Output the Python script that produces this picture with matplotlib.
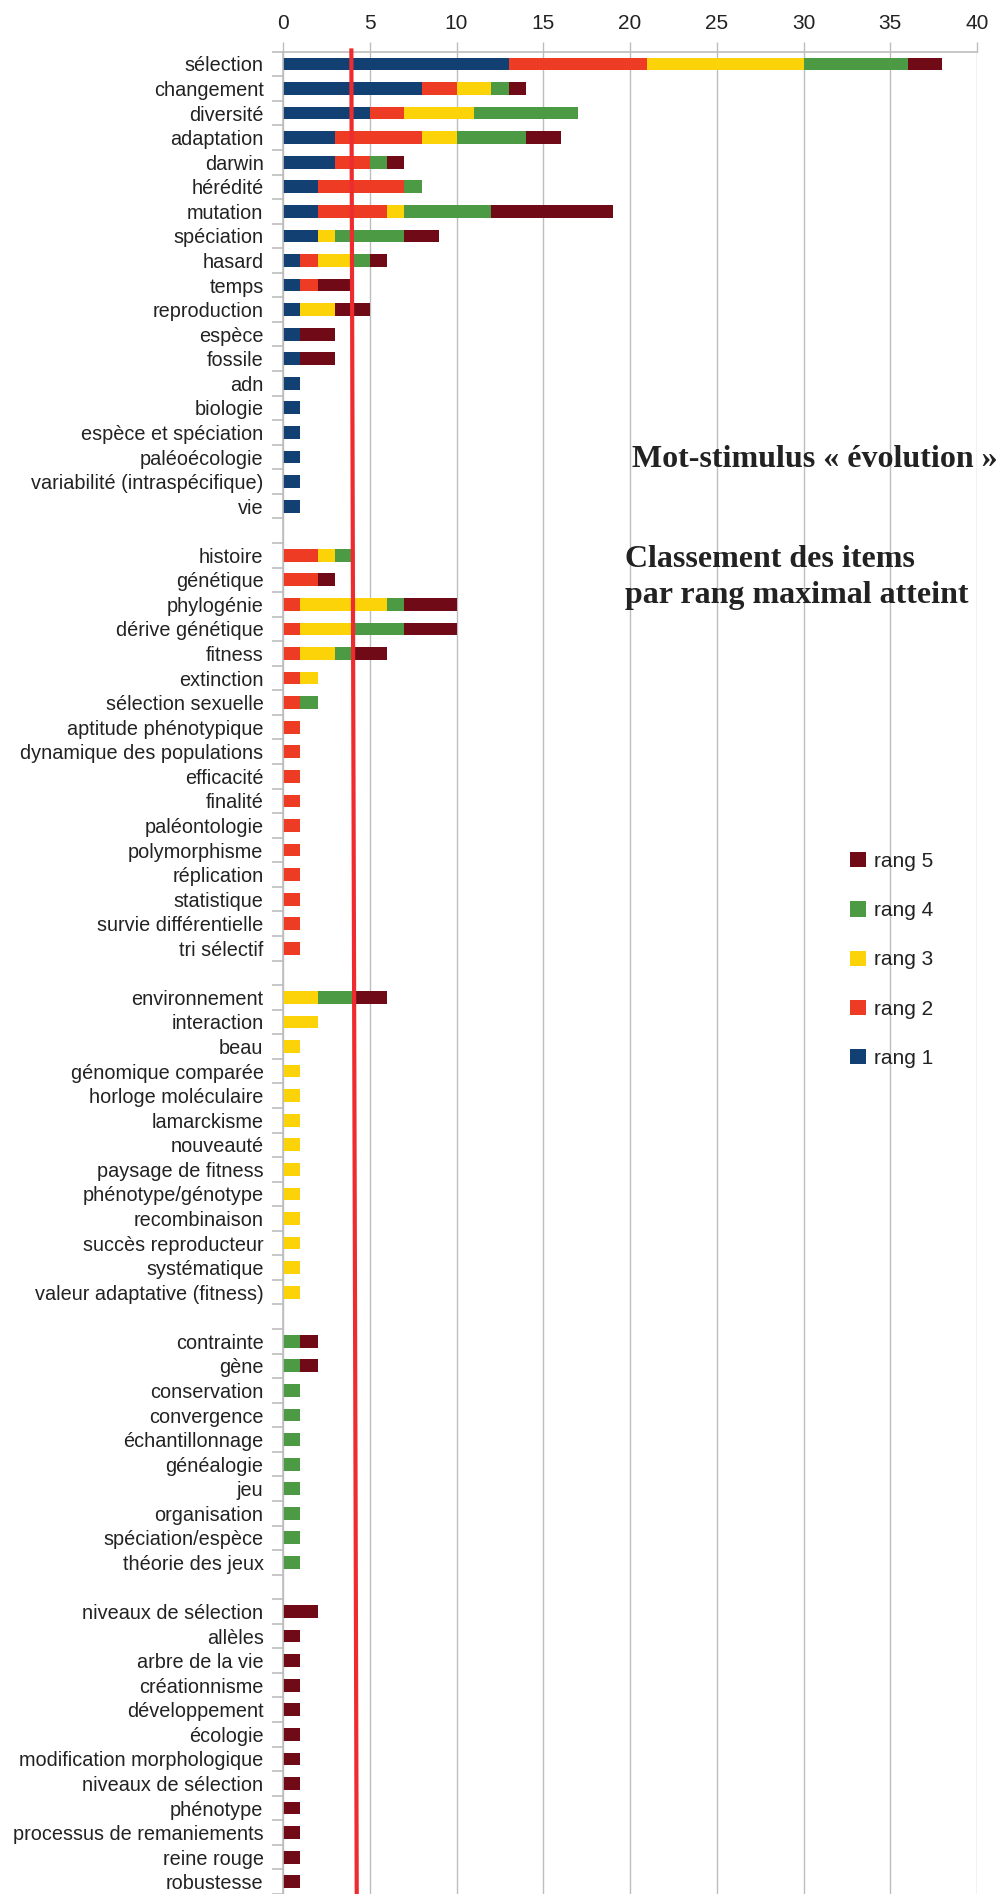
"""Stacked horizontal bars: items by maximal rank reached, stimulus word 'évolution'."""
import numpy as np
import matplotlib.pyplot as plt
from matplotlib.patches import Patch

labels = [
    # rang 1
    'sélection', 'changement', 'diversité', 'adaptation', 'darwin', 'hérédité',
    'mutation', 'spéciation', 'hasard', 'temps', 'reproduction', 'espèce',
    'fossile', 'adn', 'biologie', 'espèce et spéciation', 'paléoécologie',
    'variabilité (intraspécifique)', 'vie', '',
    # rang 2
    'histoire', 'génétique', 'phylogénie', 'dérive génétique', 'fitness',
    'extinction', 'sélection sexuelle', 'aptitude phénotypique',
    'dynamique des populations', 'efficacité', 'finalité', 'paléontologie',
    'polymorphisme', 'réplication', 'statistique', 'survie différentielle',
    'tri sélectif', '',
    # rang 3
    'environnement', 'interaction', 'beau', 'génomique comparée',
    'horloge moléculaire', 'lamarckisme', 'nouveauté', 'paysage de fitness',
    'phénotype/génotype', 'recombinaison', 'succès reproducteur',
    'systématique', 'valeur adaptative (fitness)', '',
    # rang 4
    'contrainte', 'gène', 'conservation', 'convergence', 'échantillonnage',
    'généalogie', 'jeu', 'organisation', 'spéciation/espèce',
    'théorie des jeux', '',
    # rang 5
    'niveaux de sélection', 'allèles', 'arbre de la vie', 'créationnisme',
    'développement', 'écologie', 'modification morphologique',
    'niveaux de sélection', 'phénotype', 'processus de remaniements',
    'reine rouge', 'robustesse',
]

rang1 = ([13, 8, 5, 3, 3, 2, 2, 2, 1, 1, 1, 1, 1, 1, 1, 1, 1, 1, 1, 0]
         + [0] * 18 + [0] * 14 + [0] * 11 + [0] * 12)
rang2 = ([8, 2, 2, 5, 2, 5, 4, 0, 1, 1, 0, 0, 0, 0, 0, 0, 0, 0, 0, 0]
         + [2, 2, 1, 1, 1, 1, 1, 1, 1, 1, 1, 1, 1, 1, 1, 1, 1, 0]
         + [0] * 14 + [0] * 11 + [0] * 12)
rang3 = ([9, 2, 4, 2, 0, 0, 1, 1, 2, 0, 2, 0, 0, 0, 0, 0, 0, 0, 0, 0]
         + [1, 0, 5, 3, 2, 1, 0, 0, 0, 0, 0, 0, 0, 0, 0, 0, 0, 0]
         + [2, 2, 1, 1, 1, 1, 1, 1, 1, 1, 1, 1, 1, 0]
         + [0] * 11 + [0] * 12)
rang4 = ([6, 1, 6, 4, 1, 1, 5, 4, 1, 0, 0, 0, 0, 0, 0, 0, 0, 0, 0, 0]
         + [1, 0, 1, 3, 1, 0, 1, 0, 0, 0, 0, 0, 0, 0, 0, 0, 0, 0]
         + [2, 0, 0, 0, 0, 0, 0, 0, 0, 0, 0, 0, 0, 0]
         + [1, 1, 1, 1, 1, 1, 1, 1, 1, 1, 0]
         + [0] * 12)
rang5 = ([2, 1, 0, 2, 1, 0, 7, 2, 1, 2, 2, 2, 2, 0, 0, 0, 0, 0, 0, 0]
         + [0, 1, 3, 3, 2, 0, 0, 0, 0, 0, 0, 0, 0, 0, 0, 0, 0, 0]
         + [2, 0, 0, 0, 0, 0, 0, 0, 0, 0, 0, 0, 0, 0]
         + [1, 1, 0, 0, 0, 0, 0, 0, 0, 0, 0]
         + [2, 1, 1, 1, 1, 1, 1, 1, 1, 1, 1, 1])

series = ['rang 1', 'rang 2', 'rang 3', 'rang 4', 'rang 5']
colors = ['#134073', '#EE3B24', '#FCD209', '#4D9A45', '#710A17']
threshold = (3.94, 4.25)   # hand-drawn red line, slightly slanted

TXT = '#222222'
GRID = '#BDBDBD'

fig = plt.figure(figsize=(9.97, 18.94), dpi=100)
ax = fig.add_axes([283 / 997, 0, 694 / 997, 1 - 51.7 / 1894])

y = np.arange(len(labels))
left = np.zeros(len(labels))
for vals, col in zip([rang1, rang2, rang3, rang4, rang5], colors):
    vals = np.array(vals, dtype=float)
    ax.barh(y, vals, left=left, height=0.52, color=col, linewidth=0)
    left += vals

ax.set_xlim(0, 40)
ax.set_ylim(74.45, -0.5)

ax.xaxis.tick_top()
ax.set_xticks(range(0, 41, 5))
ax.tick_params(axis='x', direction='out', length=7.2, width=1, color=GRID,
               labelsize=15, labelcolor=TXT, pad=6)
ax.xaxis.grid(True, color=GRID, linewidth=1)
ax.set_axisbelow(True)

ax.set_yticks(y, labels, fontfamily='Liberation Sans', fontsize=14.3, color=TXT)
ax.set_yticks(np.arange(-0.5, len(labels), 1), minor=True)
ax.tick_params(axis='y', which='major', length=0, pad=14)
ax.tick_params(axis='y', which='minor', length=8, width=1.2, color=GRID)
for lab in ax.get_xticklabels():
    lab.set_fontfamily('Liberation Sans')

for s in ['right', 'bottom']:
    ax.spines[s].set_visible(False)
for s in ['top', 'left']:
    ax.spines[s].set_color(GRID)
    ax.spines[s].set_linewidth(1.2)

ax.plot(threshold, [-0.55, 74.6], color='#EE2B2E', linewidth=3, clip_on=False,
        zorder=5)

serif = dict(fontfamily='Liberation Serif', fontweight='bold', fontsize=23,
             color=TXT, va='baseline', ha='left')
fig.text(632 / 997, 1 - 467 / 1894, 'Mot-stimulus « évolution »', **serif)
fig.text(625 / 997, 1 - 567 / 1894, 'Classement des items', **serif)
fig.text(625 / 997, 1 - 603 / 1894, 'par rang maximal atteint', **serif)

handles = [Patch(facecolor=c, edgecolor='none', label=n)
           for c, n in zip(colors, series)][::-1]
fig.legend(handles=handles, loc='upper left',
           bbox_to_anchor=(850 / 997, 1 - 852 / 1894), frameon=False,
           prop={'family': 'Liberation Sans', 'size': 15},
           labelcolor=TXT, handlelength=0.75, handleheight=0.75,
           handletextpad=0.4, labelspacing=1.45, borderpad=0,
           borderaxespad=0)

fig.savefig('out.png', dpi=100)
